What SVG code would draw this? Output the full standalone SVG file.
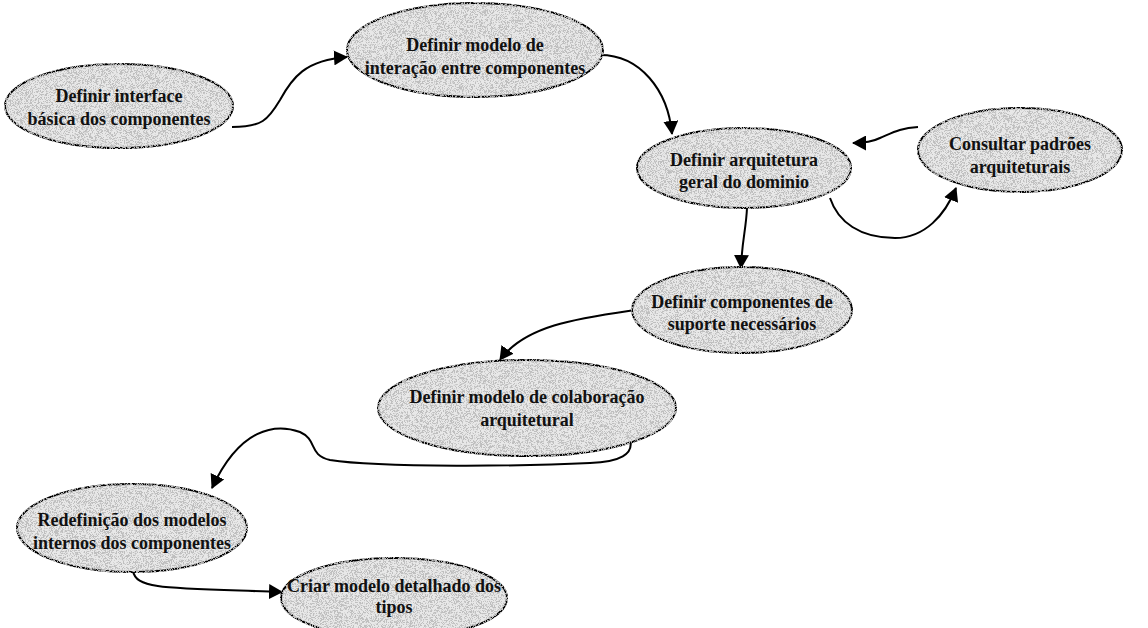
<svg xmlns="http://www.w3.org/2000/svg" width="1148" height="628" viewBox="0 0 1148 628">
  <defs>
    <style>
      .node ellipse { fill: #e8e8e8; stroke: #000; stroke-width: 2; filter: url(#grain); }
      .node text { font-family: "Liberation Serif", "Times New Roman", serif; font-size: 18px; font-weight: bold; fill: #111; text-anchor: middle; }
      .edge { fill: none; stroke: #000; stroke-width: 2; marker-end: url(#arrow); }
    </style>
    <!-- fine salt-and-pepper speckle over the light fill -->
    <filter id="grain" x="-5%" y="-5%" width="110%" height="110%">
      <feTurbulence type="fractalNoise" baseFrequency="2.2" numOctaves="1" seed="7" result="noise"/>
      <feColorMatrix in="noise" type="matrix" values="0 0 0 0 0.52  0 0 0 0 0.52  0 0 0 0 0.52  0 0 0 -10 5.2" result="dots"/>
      <feComposite in="dots" in2="SourceGraphic" operator="in" result="clipped"/>
      <feMerge>
        <feMergeNode in="SourceGraphic"/>
        <feMergeNode in="clipped"/>
      </feMerge>
    </filter>
    <marker id="arrow" viewBox="0 0 14 15" refX="13" refY="7.5" markerWidth="14" markerHeight="15" markerUnits="userSpaceOnUse" orient="auto">
      <path d="M0,0 L14,7.5 L0,15 Z" fill="#000"/>
    </marker>
  </defs>
  <rect width="1148" height="628" fill="#fff"/>

  <g id="connectors">
    <path class="edge" d="M232,127 C262,127 268,120 280,100 C292,78 305,60 347,57"/>
    <path class="edge" d="M600,55 C640,55 668,90 672,134"/>
    <path class="edge" d="M918,127 C900,128 892,133 880,138 C872,142 865,143 853,143"/>
    <path class="edge" d="M830,198 C838,222 860,238 895,238 C925,238 945,215 956,188"/>
    <path class="edge" d="M747,208 C746,230 742,240 741,268"/>
    <path class="edge" d="M635,310 C580,318 525,325 500,360"/>
    <path class="edge" d="M630,440 C634,454 620,462 590,463 C530,466 380,468 330,460 C308,455 318,440 300,432 C275,423 240,428 212,488"/>
    <path class="edge" d="M133,571 C136,590 170,588 282,592"/>
  </g>

  <g id="n1" class="node">
    <ellipse cx="119" cy="106" rx="114" ry="42"/>
    <text x="119" y="102">Definir interface</text>
    <text x="119" y="125">básica dos componentes</text>
  </g>
  <g id="n2" class="node">
    <ellipse cx="475" cy="50" rx="128" ry="47"/>
    <text x="475" y="51">Definir modelo de</text>
    <text x="475" y="74">interação entre componentes</text>
  </g>
  <g id="n3" class="node">
    <ellipse cx="744" cy="168" rx="107" ry="40"/>
    <text x="744" y="166">Definir arquitetura</text>
    <text x="744" y="188">geral do dominio</text>
  </g>
  <g id="n4" class="node">
    <ellipse cx="1020" cy="150" rx="102" ry="42"/>
    <text x="1020" y="150">Consultar padrões</text>
    <text x="1020" y="173">arquiteturais</text>
  </g>
  <g id="n5" class="node">
    <ellipse cx="742" cy="310" rx="110" ry="43"/>
    <text x="742" y="308">Definir componentes de</text>
    <text x="742" y="330">suporte necessários</text>
  </g>
  <g id="n6" class="node">
    <ellipse cx="527" cy="408" rx="149" ry="48"/>
    <text x="527" y="403">Definir modelo de colaboração</text>
    <text x="527" y="426">arquitetural</text>
  </g>
  <g id="n7" class="node">
    <ellipse cx="132" cy="528" rx="115" ry="44"/>
    <text x="132" y="526">Redefinição dos modelos</text>
    <text x="132" y="549">internos dos componentes</text>
  </g>
  <g id="n8" class="node">
    <ellipse cx="394" cy="598" rx="113" ry="40"/>
    <text x="394" y="592">Criar modelo detalhado dos</text>
    <text x="394" y="613">tipos</text>
  </g>
</svg>
